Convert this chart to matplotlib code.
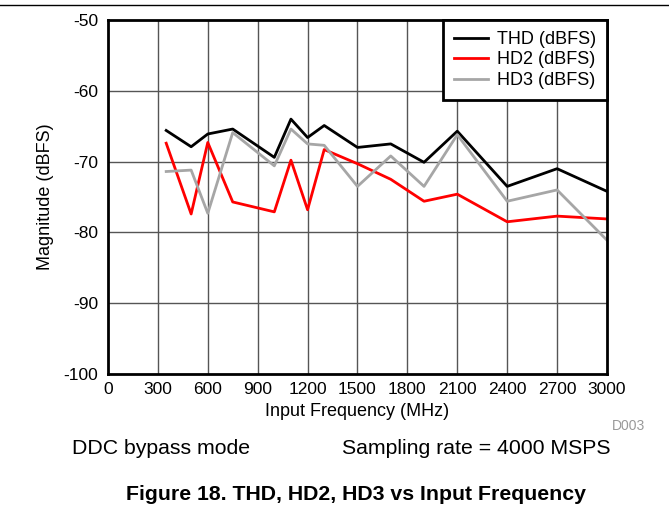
import matplotlib
matplotlib.use("Agg")
import matplotlib.pyplot as plt
from matplotlib.lines import Line2D

plt.rcParams["font.family"] = ["Liberation Sans", "DejaVu Sans"]
plt.rcParams["axes.unicode_minus"] = False

# ── data ────────────────────────────────────────────────────────────
freq_mhz = [350, 500, 600, 750, 1000, 1100, 1200, 1300, 1500, 1700, 1900, 2100, 2400, 2700, 3000]
thd_dbfs = [-65.6, -67.9, -66.1, -65.4, -69.4, -64.0, -66.6, -64.9, -68.0, -67.5, -70.1, -65.7, -73.5, -71.0, -74.2]
hd2_dbfs = [-67.4, -77.4, -67.3, -75.7, -77.1, -69.8, -76.8, -68.3, -70.3, -72.5, -75.6, -74.6, -78.5, -77.7, -78.1]
hd3_dbfs = [-71.4, -71.2, -77.3, -65.9, -70.6, -65.4, -67.5, -67.7, -73.5, -69.2, -73.5, -66.2, -75.6, -74.0, -81.1]

x_ticks = list(range(0, 3001, 300))
y_ticks = list(range(-100, -49, 10))

series = [
    ("THD (dBFS)", thd_dbfs, "black"),
    ("HD2 (dBFS)", hd2_dbfs, "#ff0000"),
    ("HD3 (dBFS)", hd3_dbfs, "#a6a6a6"),
]

fig = plt.figure(figsize=(6.69, 5.08), dpi=100)
ax = fig.add_axes([0.1614, 0.2638, 0.7459, 0.6968])

# grid only on the interior lines
for xv in x_ticks[1:-1]:
    ax.axvline(xv, color="#555555", lw=1.0, zorder=1)
for yv in y_ticks[1:-1]:
    ax.axhline(yv, color="#555555", lw=1.0, zorder=1)

for name, vals, col in series:
    ax.plot(freq_mhz, vals, color=col, lw=2.0, label=name, zorder=3)

ax.set_xlim(0, 3000)
ax.set_ylim(-100, -50)
ax.set_xticks(x_ticks)
ax.set_yticks(y_ticks)
ax.tick_params(length=0, labelsize=12.5, pad=6)
ax.tick_params(axis="y", pad=7)
for sp in ax.spines.values():
    sp.set_linewidth(2.0)
    sp.set_zorder(4)

ax.set_xlabel("Input Frequency (MHz)", fontsize=13, labelpad=4)
ax.set_ylabel("Magnitude (dBFS)", fontsize=13, labelpad=7)

handles = [Line2D([], [], color=c, lw=2.0) for _, _, c in series]
leg = ax.legend(handles, [s[0] for s in series], loc="upper right",
                fontsize=13, frameon=True, fancybox=False, framealpha=1,
                edgecolor="black", borderaxespad=0, handlelength=1.9,
                labelspacing=0.2, borderpad=0.6, handletextpad=0.5)
leg.get_frame().set_linewidth(2.0)
leg.set_zorder(5)

# annotations around the plot
fig.add_artist(Line2D([0, 1], [0.990, 0.990], color="black", lw=1.0))
fig.text(612 / 669, 1 - 426 / 508, "D003", fontsize=10, color="#999999",
         ha="left", va="center")
fig.text(72 / 669, 1 - 448 / 508, "DDC bypass mode", fontsize=15.3,
         ha="left", va="center")
fig.text(610 / 669, 1 - 448 / 508, "Sampling rate = 4000 MSPS", fontsize=15.3,
         ha="right", va="center")
fig.text(356 / 669, 1 - 495 / 508, "Figure 18. THD, HD2, HD3 vs Input Frequency",
         fontsize=15.3, fontweight="bold", ha="center", va="center")

fig.savefig("out.png", dpi=100)
plt.close(fig)
